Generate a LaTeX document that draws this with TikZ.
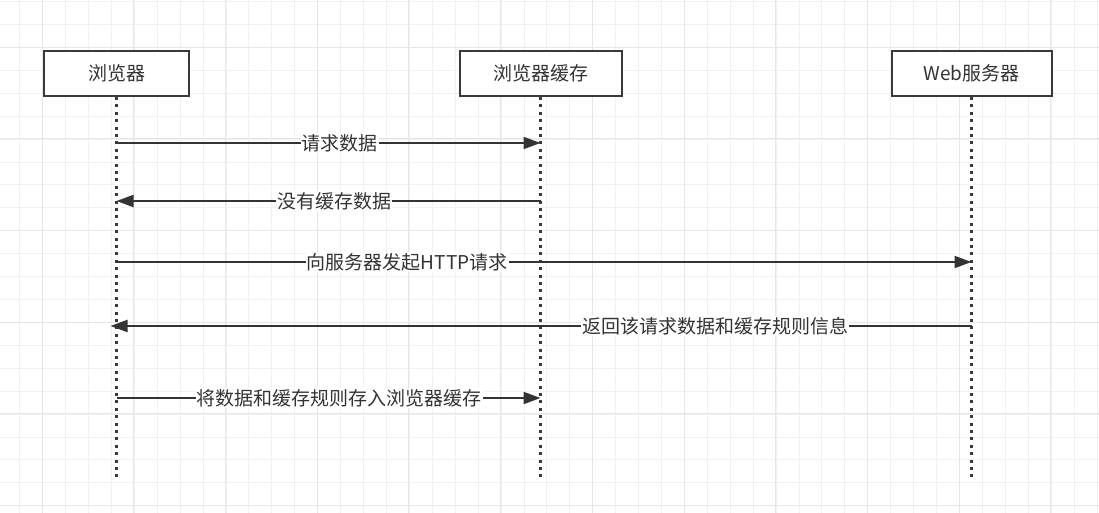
\documentclass[tikz,border=0pt]{standalone}
\usepackage{fontspec}
\setmainfont{Noto Sans CJK SC}
\usepackage{xcolor}
\usetikzlibrary{arrows.meta}
\definecolor{inkclr}{HTML}{333333}
\definecolor{boxclr}{HTML}{36393D}
\definecolor{gridminor}{HTML}{F1F1F1}
\definecolor{gridmajor}{HTML}{E6E6E6}

\begin{document}
\begin{tikzpicture}[
  x=1pt, y=-1pt,
  actor/.style={draw=boxclr, line width=2pt, fill=white, minimum height=45pt, inner sep=0pt, text=inkclr, font=\fontsize{19}{22}\selectfont},
  life/.style={draw=boxclr, line width=3pt, dash pattern=on 3pt off 4.4pt},
  msg/.style={draw=inkclr, line width=2pt, -{Triangle[length=17pt, width=12pt]}},
  lbl/.style={fill=white, inner sep=1pt, text=inkclr, font=\fontsize{19}{22}\selectfont}
]
\useasboundingbox[fill=white] (0,0) rectangle (1099,513);
% grid
\foreach \i in {0,...,47} {\draw[gridminor, line width=1.2pt] ({round(19.3+22.92*\i)+0.5},0) -- ++(0,513);}
\foreach \i in {0,...,22} {\draw[gridminor, line width=1.2pt] (0,{round(1.1+22.92*\i)+0.5}) -- ++(1099,0);}
\foreach \i in {0,...,11} {\draw[gridmajor, line width=1.2pt] ({round(41.7+91.7*\i)+0.5},0) -- ++(0,513);}
\foreach \i in {0,...,5} {\draw[gridmajor, line width=1.2pt] (0,{round(46.7+91.7*\i)+0.5}) -- ++(1099,0);}
% actors
\node[actor, minimum width=145pt] (browser) at (116.5,73.5) {浏览器};
\node[actor, minimum width=162pt] (cache) at (540.5,73.5) {浏览器缓存};
\node[actor, minimum width=160pt] (server) at (971.5,73.5) {Web服务器};
% lifelines
\foreach \x in {browser,cache,server} {
  \coordinate (\x-end) at (\x.south |- 0,481);
  \draw[life] (\x.south) -- (\x-end);
}
% messages
\foreach \a/\b/\y/\p/\s/\t in {browser/cache/143/0.526/0/请求数据,
                             cache/browser/201/0.486/0/没有缓存数据,
                             browser/server/262/0.34/0/向服务器发起HTTP请求,
                             server/browser/326/0.30/-6/返回该请求数据和缓存规则信息,
                             browser/cache/398/0.525/0/将数据和缓存规则存入浏览器缓存} {
  \draw[msg, shorten >=\s pt] (\a.south |- 0,\y) -- node[pos=\p, lbl] {\t} (\b.south |- 0,\y);
}
\end{tikzpicture}
\end{document}
